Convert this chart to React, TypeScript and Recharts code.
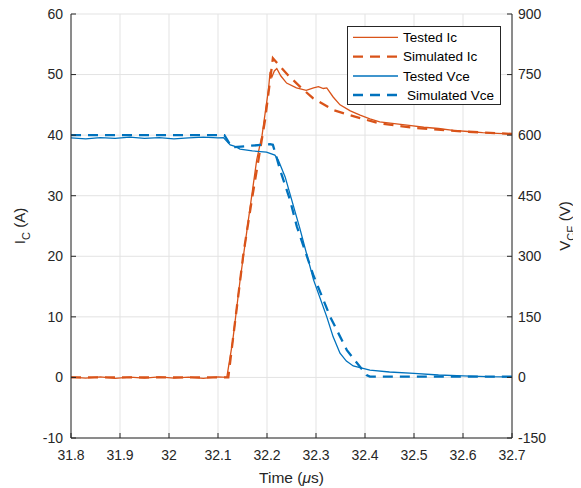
import React from 'react';
import { LineChart, Line, XAxis, YAxis, CartesianGrid, Legend } from 'recharts';

const ORANGE = '#D95319';
const BLUE = '#0072BD';
const AXIS = '#262626';
const FONT = '"Liberation Sans", Arial, Helvetica, sans-serif';

const timeTicks = [31.8, 31.9, 32, 32.1, 32.2, 32.3, 32.4, 32.5, 32.6, 32.7];
const currentTicks = [-10, 0, 10, 20, 30, 40, 50, 60];
const voltageTicks = [-150, 0, 150, 300, 450, 600, 750, 900];

const legendLabels = ['Tested Ic', 'Simulated Ic', 'Tested Vce', 'Simulated Vce'];

// [time (us), current (A)]
const testedIc: [number, number][] = [
  [31.8, 0.05], [31.83, -0.1], [31.86, 0.1], [31.89, -0.15], [31.92, 0.05], [31.95, -0.1],
  [31.98, 0.1], [32.01, -0.1], [32.04, 0.05], [32.07, -0.15], [32.1, 0.1], [32.118, 0.0],
  [32.13, 6], [32.145, 16], [32.162, 26], [32.179, 35.9], [32.19, 40], [32.196, 43.5],
  [32.203, 47.5], [32.206, 50.2], [32.21, 49.6], [32.215, 50.6], [32.22, 51.0], [32.228, 49.8],
  [32.24, 48.6], [32.26, 47.8], [32.28, 47.4], [32.295, 47.8], [32.305, 48.0], [32.315, 47.7],
  [32.322, 47.8], [32.335, 46.3], [32.349, 45.0], [32.37, 44.0], [32.39, 43.3], [32.41, 42.7],
  [32.43, 42.2], [32.46, 41.9], [32.49, 41.6], [32.52, 41.3], [32.55, 41.1], [32.58, 40.8],
  [32.61, 40.6], [32.64, 40.4], [32.67, 40.3], [32.7, 40.2],
];

const simulatedIc: [number, number][] = [
  [31.8, 0], [32.121, 0], [32.13, 6], [32.152, 20.5], [32.169, 29.3], [32.196, 42.5],
  [32.212, 52.7], [32.243, 49.9], [32.27, 47.8], [32.294, 46.1], [32.335, 44.15],
  [32.39, 42.8], [32.43, 41.95], [32.5, 41.2], [32.6, 40.6], [32.7, 40.2],
];

// [time (us), voltage (V)]
const testedVce: [number, number][] = [
  [31.8, 593], [31.83, 591], [31.86, 594], [31.89, 592], [31.92, 595], [31.95, 592],
  [31.98, 594], [32.01, 591], [32.04, 593], [32.07, 595], [32.1, 593], [32.111, 594],
  [32.125, 576], [32.133, 573], [32.145, 565.5], [32.17, 561], [32.199, 558], [32.216, 550.5],
  [32.223, 538.5], [32.237, 496.5], [32.267, 369], [32.295, 241.5], [32.322, 150],
  [32.335, 100.5], [32.349, 60], [32.362, 40.5], [32.376, 28.5], [32.41, 18], [32.45, 13.5],
  [32.5, 10], [32.55, 6], [32.6, 4], [32.65, 2], [32.7, 1.5],
];

const simulatedVce: [number, number][] = [
  [31.8, 600], [32.113, 600], [32.128, 570], [32.206, 577.5], [32.212, 576], [32.22, 543],
  [32.227, 513], [32.247, 439.5], [32.261, 373.5], [32.294, 255], [32.329, 150],
  [32.363, 67.5], [32.403, 6], [32.41, 2], [32.7, 2],
];

const toPoints = (arr: [number, number][]) => arr.map(([t, v]) => ({ t, v }));

const LeftTick = (props: any) => {
  const { x, y, payload } = props;
  const m = 8;
  return (
    <g>
      <line x1={x + m} y1={y} x2={x + m + 5} y2={y} stroke={AXIS} strokeWidth={1} />
      <text x={x} y={y} dy="0.35em" textAnchor="end" fontSize={14} fontFamily={FONT} fill={AXIS}>
        {payload.value}
      </text>
    </g>
  );
};

const RightTick = (props: any) => {
  const { x, y, payload } = props;
  const m = 6;
  return (
    <g>
      <line x1={x - m} y1={y} x2={x - m - 5} y2={y} stroke={AXIS} strokeWidth={1} />
      <text x={x} y={y} dy="0.35em" textAnchor="start" fontSize={14} fontFamily={FONT} fill={AXIS}>
        {payload.value}
      </text>
    </g>
  );
};

const BottomTick = (props: any) => {
  const { x, y, payload } = props;
  const m = 12;
  return (
    <g>
      <line x1={x} y1={y - m} x2={x} y2={y - m - 5} stroke={AXIS} strokeWidth={1} />
      <text x={x} y={y} dy="0.71em" textAnchor="middle" fontSize={14} fontFamily={FONT} fill={AXIS}>
        {payload.value}
      </text>
    </g>
  );
};

const TopTick = (props: any) => {
  const { x, y } = props;
  return <line x1={x} y1={y} x2={x} y2={y + 5} stroke={AXIS} strokeWidth={1} />;
};

const LeftLabel = (props: any) => {
  const vb = props.viewBox || {};
  const cx = vb.x + 25;
  const cy = vb.y + vb.height / 2;
  return (
    <text x={cx} y={cy} textAnchor="middle" transform={`rotate(-90, ${cx}, ${cy})`} fontSize={15} fontFamily={FONT} fill={AXIS}>
      I<tspan dy={4.5} fontSize={11}>C</tspan>
      <tspan dy={-4.5}> (A)</tspan>
    </text>
  );
};

const RightLabel = (props: any) => {
  const vb = props.viewBox || {};
  const cx = vb.x + 58;
  const cy = vb.y + vb.height / 2;
  return (
    <text x={cx} y={cy} textAnchor="middle" transform={`rotate(-90, ${cx}, ${cy})`} fontSize={15} fontFamily={FONT} fill={AXIS}>
      V<tspan dy={4.5} fontSize={11}>CE</tspan>
      <tspan dy={-4.5}> (V)</tspan>
    </text>
  );
};

const BottomLabel = (props: any) => {
  const vb = props.viewBox || {};
  const cx = vb.x + vb.width / 2;
  const cy = vb.y + 45;
  return (
    <text x={cx} y={cy} textAnchor="middle" fontSize={15.5} fontFamily={FONT} fill={AXIS}>
      Time (<tspan fontStyle="italic">μ</tspan>s)
    </text>
  );
};

const legendStyles = [
  { color: ORANGE, dash: undefined, width: 1.3 },
  { color: ORANGE, dash: '10 7', width: 2.3 },
  { color: BLUE, dash: undefined, width: 1.3 },
  { color: BLUE, dash: '10 7', width: 2.3 },
];

const LegendBox = () => {
  const rows = [11.3, 30.7, 50, 69];
  return (
    <svg width={155} height={80} style={{ display: 'block' }}>
      <rect x={0.5} y={0.5} width={153} height={78} fill="#fff" stroke={AXIS} strokeWidth={1} />
      {legendLabels.map((label, i) => (
        <g key={label}>
          <line
            x1={6}
            x2={51}
            y1={rows[i]}
            y2={rows[i]}
            stroke={legendStyles[i].color}
            strokeWidth={legendStyles[i].width}
            strokeDasharray={legendStyles[i].dash}
          />
          <text x={i === 3 ? 60 : 56} y={rows[i]} dy="0.35em" fontSize={13.5} fontFamily={FONT} fill="#000">
            {label}
          </text>
        </g>
      ))}
    </svg>
  );
};

export default function App() {
  return (
    <div style={{ margin: '-8px 0 0 -8px', width: 581, height: 488 }}>
      <LineChart width={581} height={488} margin={{ top: 14, right: 0, bottom: 0, left: 0 }}>
        <CartesianGrid xAxisId="bottom" yAxisId="left" stroke="#e3e3e3" strokeWidth={1} />
        <XAxis
          xAxisId="bottom"
          dataKey="t"
          type="number"
          domain={[31.8, 32.7]}
          ticks={timeTicks}
          allowDataOverflow
          height={50}
          tickSize={0}
          tickMargin={12}
          tickLine={false}
          axisLine={{ stroke: AXIS, strokeWidth: 1 }}
          tick={(p: any) => <BottomTick {...p} />}
          interval={0}
          label={{ content: (p: any) => <BottomLabel {...p} /> }}
        />
        <XAxis
          xAxisId="top"
          orientation="top"
          dataKey="t"
          type="number"
          domain={[31.8, 32.7]}
          ticks={timeTicks}
          allowDataOverflow
          height={0}
          tickSize={0}
          tickMargin={0}
          tickLine={false}
          axisLine={{ stroke: AXIS, strokeWidth: 1 }}
          tick={(p: any) => <TopTick {...p} />}
          interval={0}
        />
        <YAxis
          yAxisId="left"
          type="number"
          domain={[-10, 60]}
          ticks={currentTicks}
          allowDataOverflow
          width={71}
          tickSize={0}
          tickMargin={8}
          tickLine={false}
          axisLine={{ stroke: AXIS, strokeWidth: 1 }}
          tick={(p: any) => <LeftTick {...p} />}
          interval={0}
          label={{ content: (p: any) => <LeftLabel {...p} /> }}
        />
        <YAxis
          yAxisId="right"
          orientation="right"
          type="number"
          domain={[-150, 900]}
          ticks={voltageTicks}
          allowDataOverflow
          width={69}
          tickSize={0}
          tickMargin={6}
          tickLine={false}
          axisLine={{ stroke: AXIS, strokeWidth: 1 }}
          tick={(p: any) => <RightTick {...p} />}
          interval={0}
          label={{ content: (p: any) => <RightLabel {...p} /> }}
        />
        <Legend
          layout="vertical"
          verticalAlign="middle"
          align="center"
          wrapperStyle={{ position: 'absolute', left: 347, top: 26, width: 155, height: 80 }}
          content={() => <LegendBox />}
        />
        <Line
          xAxisId="bottom"
          yAxisId="left"
          data={toPoints(testedIc)}
          dataKey="v"
          name={legendLabels[0]}
          type="linear"
          stroke={ORANGE}
          strokeWidth={1.3}
          dot={false}
          isAnimationActive={false}
        />
        <Line
          xAxisId="bottom"
          yAxisId="left"
          data={toPoints(simulatedIc)}
          dataKey="v"
          name={legendLabels[1]}
          type="linear"
          stroke={ORANGE}
          strokeWidth={2.3}
          strokeDasharray="10 7"
          dot={false}
          isAnimationActive={false}
        />
        <Line
          xAxisId="bottom"
          yAxisId="right"
          data={toPoints(testedVce)}
          dataKey="v"
          name={legendLabels[2]}
          type="linear"
          stroke={BLUE}
          strokeWidth={1.3}
          dot={false}
          isAnimationActive={false}
        />
        <Line
          xAxisId="bottom"
          yAxisId="right"
          data={toPoints(simulatedVce)}
          dataKey="v"
          name={legendLabels[3]}
          type="linear"
          stroke={BLUE}
          strokeWidth={2.3}
          strokeDasharray="10 7"
          dot={false}
          isAnimationActive={false}
        />
      </LineChart>
    </div>
  );
}
